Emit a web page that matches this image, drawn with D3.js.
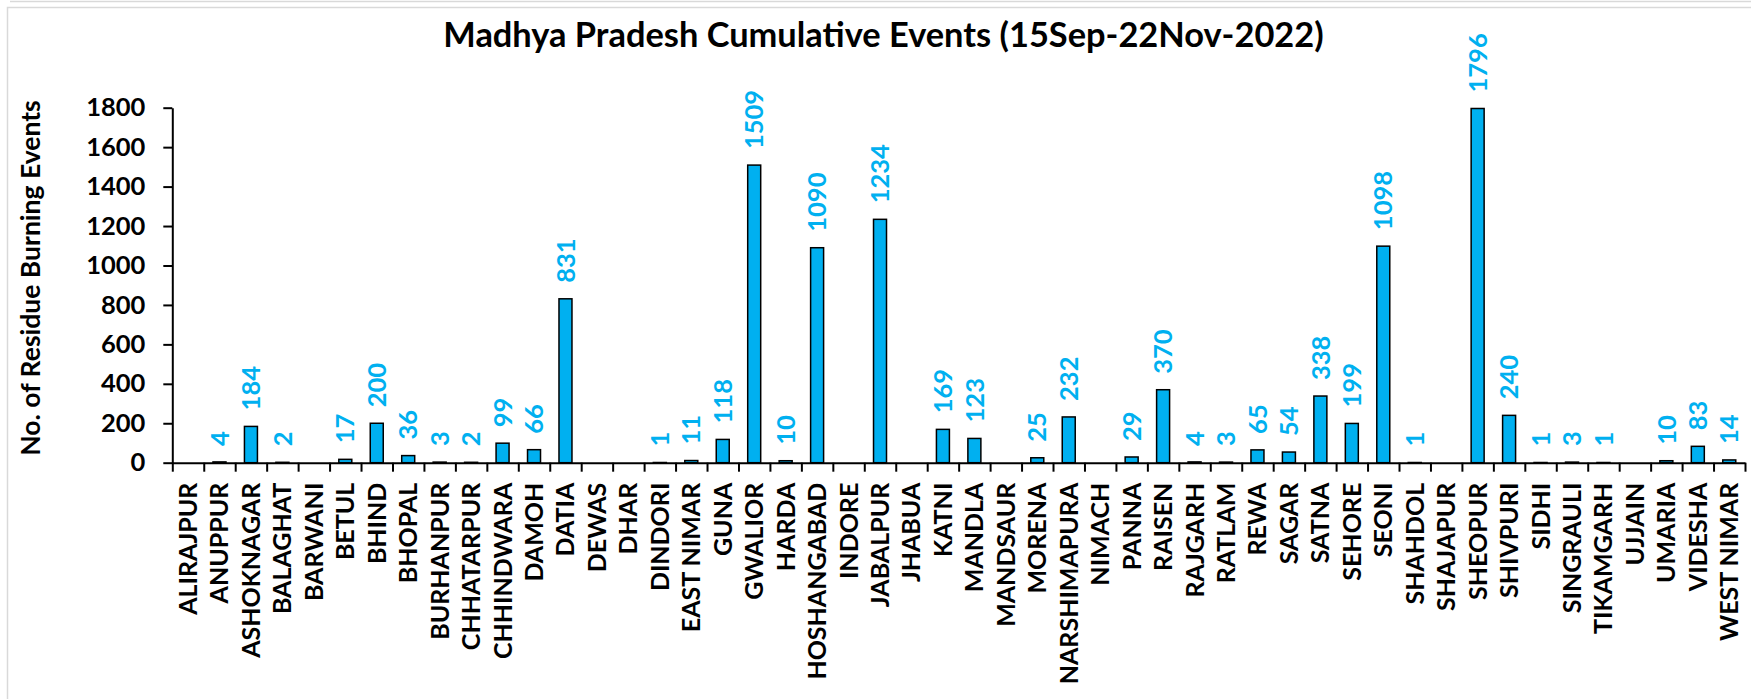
<!DOCTYPE html>
<html><head><meta charset="utf-8">
<script src="https://cdn.jsdelivr.net/npm/d3@7"></script>
<style>html,body{margin:0;padding:0;background:#fff;}svg{display:block;}</style>
</head><body>
<script>
const categories = ["ALIRAJPUR","ANUPPUR","ASHOKNAGAR","BALAGHAT","BARWANI","BETUL","BHIND","BHOPAL","BURHANPUR","CHHATARPUR","CHHINDWARA","DAMOH","DATIA","DEWAS","DHAR","DINDORI","EAST NIMAR","GUNA","GWALIOR","HARDA","HOSHANGABAD","INDORE","JABALPUR","JHABUA","KATNI","MANDLA","MANDSAUR","MORENA","NARSHIMAPURA","NIMACH","PANNA","RAISEN","RAJGARH","RATLAM","REWA","SAGAR","SATNA","SEHORE","SEONI","SHAHDOL","SHAJAPUR","SHEOPUR","SHIVPURI","SIDHI","SINGRAULI","TIKAMGARH","UJJAIN","UMARIA","VIDESHA","WEST NIMAR"];
const values = [0,4,184,2,0,17,200,36,3,2,99,66,831,0,0,1,11,118,1509,10,1090,0,1234,0,169,123,0,25,232,0,29,370,4,3,65,54,338,199,1098,1,0,1796,240,1,3,1,0,10,83,14];
const yTicks = [0,200,400,600,800,1000,1200,1400,1600,1800];
const chartTitle = "Madhya Pradesh Cumulative Events (15Sep-22Nov-2022)";
const yTitle = "No. of Residue Burning Events";

(function () {
const W = 1751, H = 699;
const pLeft = 172.3, pRight = 1745, pTop = 107.7, pBottom = 462.7;
const FONT = "Lato, 'Open Sans', sans-serif";

const svg = d3.select("body").append("svg").attr("width", W).attr("height", H);
svg.append("rect").attr("width", W).attr("height", H).attr("fill", "#fff");
svg.append("line").attr("x1", 10).attr("x2", W).attr("y1", 1.5).attr("y2", 1.5).attr("stroke", "#d9d9d9").attr("stroke-width", 1.5);
svg.append("rect").attr("x", 7.5).attr("y", 7.5).attr("width", W).attr("height", H).attr("fill", "none").attr("stroke", "#d9d9d9").attr("stroke-width", 1.5);

const x = d3.scaleBand().domain(categories).range([pLeft, pRight]).paddingInner(0.587).paddingOuter(0.2935);
const xi = d3.scaleLinear().domain([0, categories.length]).range([pLeft, pRight]);
const y = d3.scaleLinear().domain([0, 1800]).range([pBottom, pTop]);

const data = categories.map((c, i) => ({c, v: values[i]})).filter(d => d.v > 0);

// bars
svg.append("g").selectAll("rect").data(data)
  .join("rect")
  .attr("x", d => x(d.c)).attr("width", x.bandwidth())
  .attr("y", d => y(d.v)).attr("height", d => y(0) - y(d.v))
  .attr("fill", "#00B0F0").attr("stroke", "#000").attr("stroke-width", 1.5);

// data labels
svg.append("g").selectAll("text").data(data)
  .join("text")
  .attr("transform", d => `translate(${x(d.c) + x.bandwidth() / 2},${y(d.v) - 16}) rotate(-90)`)
  .attr("dy", "0.36em").attr("text-anchor", "start")
  .attr("font-family", FONT).attr("font-weight", "bold").attr("font-size", 25.5)
  .attr("fill", "#00B0F0").text(d => d.v);

// y axis
const yAxis = svg.append("g").attr("transform", `translate(${pLeft},0)`)
  .call(d3.axisLeft(y).tickValues(yTicks).tickFormat(d3.format("d")).tickSize(9).tickPadding(18).tickSizeOuter(0));
yAxis.select(".domain").attr("stroke", "#000").attr("stroke-width", 2);
yAxis.selectAll(".tick line").attr("stroke", "#000").attr("stroke-width", 2);
yAxis.selectAll(".tick text").attr("font-family", FONT).attr("font-weight", "bold").attr("font-size", 25.5).attr("fill", "#000");

// x axis ticks at category boundaries
const xTickAxis = svg.append("g").attr("transform", `translate(0,${pBottom})`)
  .call(d3.axisBottom(xi).tickValues(d3.range(categories.length + 1)).tickFormat("").tickSize(9).tickSizeOuter(0));
xTickAxis.select(".domain").attr("stroke", "#000").attr("stroke-width", 2);
xTickAxis.selectAll(".tick line").attr("stroke", "#000").attr("stroke-width", 2);

// x labels
const xLab = svg.append("g").attr("transform", `translate(0,${pBottom})`)
  .call(d3.axisBottom(x).tickSize(0).tickPadding(0));
xLab.select(".domain").remove();
xLab.selectAll(".tick text")
  .attr("transform", "translate(0,20) rotate(-90)")
  .attr("x", 0).attr("y", 0).attr("dy", "0.36em")
  .attr("text-anchor", "end")
  .attr("font-family", FONT).attr("font-weight", "bold").attr("font-size", 25).attr("fill", "#000");

// title
svg.append("text").attr("x", 883.5).attr("y", 47.3).attr("text-anchor", "middle")
  .attr("font-family", FONT).attr("font-weight", "bold").attr("font-size", 34.4).attr("fill", "#000")
  .text(chartTitle);

// y title
svg.append("text").attr("transform", `translate(40,278) rotate(-90)`).attr("text-anchor", "middle")
  .attr("font-family", FONT).attr("font-weight", "bold").attr("font-size", 26.5).attr("fill", "#000")
  .text(yTitle);
})();
</script>
</body></html>
